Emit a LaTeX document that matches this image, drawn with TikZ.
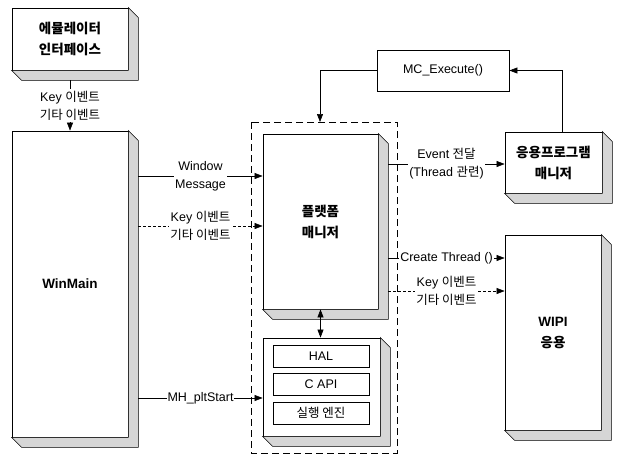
\documentclass[tikz,border=0pt]{standalone}
\usepackage{fontspec}
\setmainfont{Liberation Sans}
\newfontfamily\krfont{Noto Sans CJK KR}
\usetikzlibrary{arrows.meta, calc}

\newcommand{\hangul}[1]{{\krfont #1}}
% shaded side and bottom of a box
\newcommand{\boxdepth}[1]{%
  \filldraw[depthfill] (#1.north east) -- ++(10,10) -- ($(#1.south east)+(10,10)$)
    -- ($(#1.south west)+(10,10)$) -- (#1.south west) -- (#1.south east) -- cycle;}

\begin{document}
\begin{tikzpicture}[x=1pt, y=-1pt,
    box/.style={draw, line width=0.8pt, fill=white, align=center, inner sep=0pt,
                font=\bfseries\fontsize{13.5}{21}\selectfont},
    part/.style={draw, line width=0.6pt, minimum width=96, minimum height=22, inner sep=0pt,
                 font=\fontsize{12.5}{14}\selectfont},
    depthfill/.style={fill=gray!32, draw=black, line width=0.6pt},
    link/.style={line width=0.6pt, -{Triangle[length=8pt, width=6pt]}},
    dotlink/.style={link, dash pattern=on 3pt off 2pt},
    lbl/.style={fill=white, inner sep=1.5pt, align=center, font=\fontsize{12.5}{18}\selectfont}]
\useasboundingbox (0,0) rectangle (621,456);

% dashed frame round the platform
\draw[line width=0.9pt, dash pattern=on 7pt off 4pt] (251,122) rectangle (397,453);

% boxes
\node[box, minimum width=116, minimum height=62] (emu) at (70,39)
    {\hangul{에뮬레이터}\\\hangul{인터페이스}};
\boxdepth{emu}
\node[box, minimum width=116, minimum height=306] (win) at (70,284) {WinMain};
\boxdepth{win}
\node[box, minimum width=115, minimum height=175] (pm) at (320.5,221.5)
    {\hangul{플랫폼}\\\hangul{매니저}};
\boxdepth{pm}
\node[box, minimum width=117, minimum height=98] (cont) at (321.5,387) {};
\boxdepth{cont}
\node[part] (hal) at (321,356) {HAL};
\node[part] (capi) at (321,384) {C API};
\node[part] (eng) at (321,413) {\hangul{실행 엔진}};
\node[box, minimum width=97, minimum height=61] (am) at (553.5,162.5)
    {\hangul{응용프로그램}\\\hangul{매니저}};
\boxdepth{am}
\node[box, minimum width=96, minimum height=195] (wipi) at (553,332.5)
    {WIPI\\\hangul{응용}};
\boxdepth{wipi}
\node[draw, line width=0.8pt, minimum width=132, minimum height=41,
      font=\fontsize{12.5}{14}\selectfont] (mc) at (443,70.5) {MC\_Execute()};

% outer edges of the shaded sides
\coordinate (winR) at ($(win.east)+(10,0)$);
\coordinate (pmR) at ($(pm.east)+(10,0)$);
\coordinate (frametop) at (320,122);

% connectors
\draw[link] ($(emu.south)+(0,10)$) -- (win.north)
    node[lbl, midway] {Key \hangul{이벤트}\\\hangul{기타 이벤트}};
\draw[link] (winR |- 0,176) -- (pm.west |- 0,176)
    node[lbl, midway] {Window\\Message};
\draw[dotlink] (winR |- 0,226) -- (pm.west |- 0,226)
    node[lbl, midway] {Key \hangul{이벤트}\\\hangul{기타 이벤트}};
\draw[link] (winR |- 0,398) -- (cont.west |- 0,398)
    node[lbl, midway, inner sep=1pt] {MH\_pltStart};
\draw[link] (mc.west) -| (frametop);
\draw[link] ($(am.north)+(9,0)$) |- (mc.east);
\draw[link] (pmR |- 0,164) -- (am.west |- 0,164)
    node[lbl, midway] {Event \hangul{전달}\\(Thread \hangul{관련})};
\draw[link] (pmR |- 0,258) -- (wipi.west |- 0,258)
    node[lbl, midway, inner sep=1pt] {Create Thread ()};
\draw[dotlink] (pmR |- 0,291) -- (wipi.west |- 0,291)
    node[lbl, midway] {Key \hangul{이벤트}\\\hangul{기타 이벤트}};
\draw[line width=0.6pt, {Triangle[length=8pt, width=6pt]}-{Triangle[length=8pt, width=6pt]}]
    (pm.south) -- (pm.south |- cont.north);
\end{tikzpicture}
\end{document}
